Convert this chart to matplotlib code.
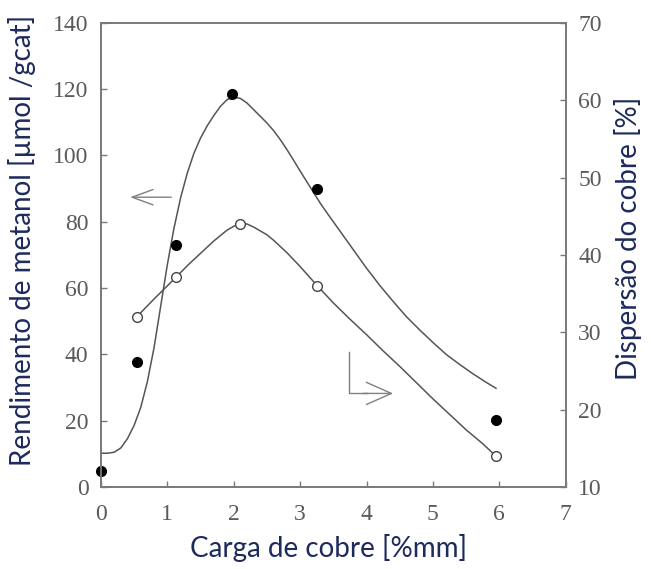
import matplotlib
matplotlib.use('Agg')
import matplotlib.pyplot as plt

# measured points (filled = methanol yield, left axis; open = Cu dispersion, right axis)
load_filled = [0.0, 0.54, 1.13, 1.98, 3.26, 5.95]
yield_filled = [4.8, 37.8, 73.1, 118.5, 90.0, 20.2]
load_open = [0.54, 1.13, 2.09, 3.26, 5.95]
disp_open = [32.0, 37.1, 44.0, 36.0, 14.0]

# fitted curves
fit_yield_x = [0.0, 0.1, 0.2, 0.3, 0.4, 0.5, 0.6, 0.7, 0.8, 0.9, 1.0, 1.1, 1.2, 1.3, 1.4,
               1.5, 1.6, 1.7, 1.8, 1.9, 2.0, 2.1, 2.2, 2.3, 2.4, 2.5, 2.6, 2.7, 2.8, 2.9,
               3.0, 3.1, 3.2, 3.3, 3.4, 3.5, 3.6, 3.7, 3.8, 3.9, 4.0, 4.2, 4.4, 4.6, 4.8,
               5.0, 5.2, 5.4, 5.6, 5.8, 5.95]
fit_yield_y = [10.2, 10.2, 10.5, 11.8, 14.6, 18.6, 24.0, 31.8, 42.0, 54.5, 67.0, 78.0, 87.2,
               94.6, 100.6, 105.2, 108.9, 112.0, 114.8, 116.8, 117.6, 117.2, 115.8, 113.8,
               111.8, 109.8, 107.5, 104.8, 101.8, 98.6, 95.3, 92.1, 88.9, 85.7, 82.8, 80.0,
               77.2, 74.4, 71.6, 68.8, 66.0, 60.8, 56.0, 51.4, 47.4, 43.6, 40.0, 37.0, 34.2,
               31.6, 29.8]
fit_disp_x = [0.54, 0.8, 1.0, 1.13, 1.3, 1.5, 1.7, 1.9, 2.0, 2.09, 2.2, 2.3, 2.4, 2.5, 2.6,
              2.8, 3.0, 3.26, 3.5, 3.75, 4.0, 4.25, 4.5, 4.75, 5.0, 5.25, 5.5, 5.75, 5.95]
fit_disp_y = [32.0, 34.3, 36.0, 37.1, 38.6, 40.2, 41.8, 43.2, 43.7, 44.0, 44.0, 43.6, 43.1,
              42.6, 41.9, 40.3, 38.5, 36.0, 33.8, 31.7, 29.7, 27.6, 25.6, 23.5, 21.4, 19.4,
              17.4, 15.6, 14.0]

x_ticks = [0, 1, 2, 3, 4, 5, 6, 7]
left_ticks = [0, 20, 40, 60, 80, 100, 120, 140]
right_ticks = [10, 20, 30, 40, 50, 60, 70]

label_color = '#1d2a5c'
tick_color = '#5a5a5a'
spine_color = '#7a7a7a'
line_color = '#555555'
arrow_color = '#808080'
tick_font = 'Liberation Serif'
label_font = ['Lato', 'DejaVu Sans']

fig = plt.figure(figsize=(6.51, 5.69), dpi=100)
ax = fig.add_axes([0.155, 0.144, 0.714, 0.816])
ax2 = ax.twinx()

ax.plot(fit_yield_x, fit_yield_y, color=line_color, lw=1.1, zorder=2)
ax.plot(load_filled, yield_filled, 'o', color='black', ms=7, zorder=3, clip_on=False)
ax2.plot(fit_disp_x, fit_disp_y, color=line_color, lw=1.1, zorder=2)
ax2.plot(load_open, disp_open, 'o', mfc='white', mec='#444444', mew=1.0, ms=7, zorder=3)

ax.set_xlim(0, 7)
ax.set_ylim(0, 140)
ax2.set_ylim(10, 70)
ax.set_xticks(x_ticks)
ax.set_yticks(left_ticks)
ax2.set_yticks(right_ticks)

for a in (ax, ax2):
    for s in a.spines.values():
        s.set_color(spine_color)
        s.set_linewidth(1.3)
    a.tick_params(direction='in', length=4, width=1.0, color=spine_color,
                  labelcolor=tick_color, labelsize=17, pad=9)
    for t in a.get_xticklabels() + a.get_yticklabels():
        t.set_fontfamily(tick_font)
ax.tick_params(axis='x', pad=12)

ax.set_xlabel('Carga de cobre [%mm]', fontsize=20, color=label_color, family=label_font)
ax.set_ylabel('Rendimento de metanol [µmol /gcat]', fontsize=20, color=label_color,
              family=label_font)
ax2.set_ylabel('Dispersão do cobre [%]', fontsize=20, color=label_color, family=label_font)
ax.xaxis.label.set_va('center')
ax.yaxis.label.set_va('center')
ax2.yaxis.label.set_va('center')
ax.xaxis.set_label_coords(0.490, -0.131)
ax.yaxis.set_label_coords(-0.170, 0.532)
ax2.yaxis.set_label_coords(1.135, 0.536)

# arrows telling which axis belongs to which curve
ax.annotate('', xy=(0.44, 87.4), xytext=(1.06, 87.4),
            arrowprops=dict(arrowstyle='->,head_length=1.5,head_width=0.55', color=arrow_color,
                            lw=1.0, shrinkA=0, shrinkB=0))
ax2.plot([3.74, 3.74, 4.0], [27.5, 22.1, 22.1], color=arrow_color, lw=1.0)
ax2.annotate('', xy=(4.40, 22.1), xytext=(3.95, 22.1),
             arrowprops=dict(arrowstyle='->,head_length=1.8,head_width=0.8', color=arrow_color,
                             lw=1.0, shrinkA=0, shrinkB=0))

fig.savefig('out.png', dpi=100)
